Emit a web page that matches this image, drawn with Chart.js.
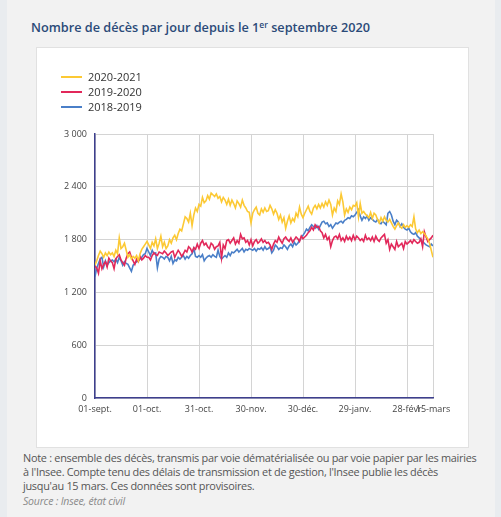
<!DOCTYPE html>
<html lang="fr">
<head>
<meta charset="utf-8">
<script src="https://cdn.jsdelivr.net/npm/chart.js@4/dist/chart.umd.min.js"></script>
<style>
  html, body { margin: 0; padding: 0; }
  body {
    width: 501px; height: 517px; overflow: hidden; position: relative;
    background: #f2f2f2; font-family: "Open Sans", sans-serif;
  }
  .strip-l { position: absolute; left: 0; top: 0; width: 7px; height: 517px; background: #e9ecef; }
  .strip-r { position: absolute; right: 0; top: 0; width: 6px; height: 517px; background: #e9ecef; }
  h1 {
    position: absolute; left: 31px; top: 18px; margin: 0;
    font-size: 12.7px; font-weight: 600; color: #2b4a78; white-space: nowrap;
  }
  h1 sup { font-size: 8.5px; vertical-align: 4px; line-height: 0; }
  .card {
    position: absolute; left: 36px; top: 47px; width: 431px; height: 399px;
    background: #fff; border: 1px solid #e1e1e1;
  }
  #chart { position: absolute; left: 0; top: 0; }
  #legend { position: absolute; left: 24px; top: 21px; font-size: 11px; color: #333; }
  #legend div { height: 15px; line-height: 15px; white-space: nowrap; }
  #legend span.sw { display: inline-block; width: 21px; height: 2px; vertical-align: middle; margin-right: 6px; position: relative; top: -1px; }
  .note {
    position: absolute; left: 23px; top: 451px; margin: 0; white-space: nowrap;
    font-size: 10.9px; line-height: 14px; color: #555; letter-spacing: -0.28px;
  }
  .source {
    position: absolute; left: 23px; top: 494px; margin: 0;
    font-size: 10.5px; font-style: italic; color: #8a8a8a; letter-spacing: -0.2px;
  }
</style>
</head>
<body>
<div class="strip-l"></div>
<div class="strip-r"></div>
<h1>Nombre de décès par jour depuis le 1<sup>er</sup> septembre 2020</h1>
<div class="card">
  <canvas id="chart" width="431" height="399"></canvas>
  <div id="legend"></div>
</div>
<p class="note">Note : ensemble des décès, transmis par voie dématérialisée ou par voie papier par les mairies<br>à l'Insee. Compte tenu des délais de transmission et de gestion, l'Insee publie les décès<br>jusqu'au 15 mars. Ces données sont provisoires.</p>
<p class="source">Source : Insee, état civil</p>

<script>
// Days since 1 September (0 = 01-sept., 195 = 15-mars)
const tickDays = [0, 30, 60, 90, 120, 150, 180, 195];
const tickLabels = ['01-sept.', '01-oct.', '31-oct.', '30-nov.', '30-déc.', '29-janv.', '28-févr', '15-mars'];

const seriesNames = ['2020-2021', '2019-2020', '2018-2019'];
const seriesColors = ['#fcc934', '#e2285a', '#4a7fc8'];

// Daily deaths
const deaths2020 = [
  1510, 1560, 1620, 1670, 1640, 1600, 1650, 1620, 1660, 1630,
  1650, 1610, 1680, 1640, 1820, 1700, 1720, 1760, 1680, 1600,
  1630, 1580, 1610, 1590, 1620, 1560, 1640, 1690, 1720, 1750,
  1780, 1740, 1700, 1770, 1730, 1810, 1700, 1760, 1840, 1720,
  1770, 1700, 1730, 1800, 1760, 1820, 1850, 1800, 1870, 1920,
  1900, 1980, 2060, 2040, 2000, 2100, 1960, 2080, 2160, 2120,
  2200, 2180, 2280, 2220, 2240, 2300, 2260, 2330, 2310, 2290,
  2320, 2270, 2290, 2230, 2280, 2250, 2200, 2260, 2190, 2250,
  2210, 2160, 2240, 2210, 2170, 2250, 2190, 2160, 2120, 2110,
  1990, 2100, 2140, 2170, 2100, 2080, 2150, 2110, 2160, 2120,
  2130, 2190, 2150, 2090, 2140, 2100, 2030, 2080, 2000, 2050,
  1930, 2010, 2070, 1990, 2040, 2010, 2100, 2060, 2170, 2090,
  2050, 2100, 2140, 2180, 2120, 2090, 2160, 2190, 2150, 2200,
  2160, 2210, 2170, 2230, 2190, 2250, 2200, 2080, 2160, 2120,
  2240, 2200, 2320, 2230, 2080, 2150, 2110, 2170, 2140, 2190,
  2180, 2220, 2060, 2210, 2100, 2120, 2090, 2070, 2050, 2110,
  2040, 2100, 2080, 2030, 1990, 2050, 2010, 2060, 2020, 2000,
  2030, 1990, 1950, 1920, 1960, 1990, 1950, 1930, 1970, 1940,
  1960, 1940, 1970, 1950, 2060, 1920, 1880, 1910, 1870, 1890,
  1870, 1840, 1810, 1760, 1680, 1600
];
const deaths2019 = [
  1500, 1480, 1420, 1560, 1470, 1520, 1550, 1490, 1590, 1560,
  1540, 1470, 1580, 1610, 1630, 1570, 1540, 1510, 1590, 1640,
  1660, 1600, 1560, 1520, 1580, 1550, 1610, 1570, 1590, 1620,
  1600, 1600, 1570, 1620, 1650, 1630, 1620, 1660, 1650, 1640,
  1670, 1650, 1620, 1640, 1660, 1670, 1600, 1640, 1680, 1650,
  1610, 1640, 1680, 1660, 1720, 1700, 1660, 1710, 1690, 1750,
  1700, 1760, 1790, 1740, 1760, 1720, 1700, 1760, 1740, 1690,
  1720, 1730, 1770, 1590, 1740, 1700, 1790, 1800, 1760, 1790,
  1820, 1750, 1790, 1760, 1860, 1810, 1820, 1770, 1790, 1740,
  1800, 1730, 1780, 1800, 1760, 1780, 1810, 1770, 1790, 1760,
  1770, 1740, 1690, 1750, 1790, 1770, 1830, 1790, 1760, 1810,
  1830, 1800, 1780, 1820, 1770, 1800, 1830, 1810, 1780, 1840,
  1810, 1830, 1850, 1880, 1900, 1940, 1910, 1970, 1940, 1950,
  1900, 1880, 1820, 1860, 1800, 1830, 1720, 1790, 1830, 1840,
  1810, 1860, 1790, 1820, 1780, 1840, 1800, 1830, 1790, 1850,
  1800, 1840, 1820, 1790, 1810, 1780, 1850, 1800, 1820, 1790,
  1830, 1780, 1840, 1800, 1780, 1820, 1840, 1860, 1760, 1800,
  1690, 1750, 1720, 1690, 1780, 1720, 1740, 1760, 1700, 1780,
  1750, 1770, 1790, 1760, 1800, 1780, 1760, 1770, 1810, 1720,
  1890, 1830, 1780, 1800, 1820, 1850
];
const deaths2018 = [
  1380, 1480, 1530, 1580, 1600, 1490, 1560, 1510, 1540, 1560,
  1570, 1550, 1580, 1540, 1600, 1560, 1510, 1550, 1530, 1520,
  1480, 1440, 1510, 1530, 1550, 1560, 1580, 1600, 1630, 1640,
  1700, 1660, 1620, 1680, 1640, 1650, 1480, 1580, 1610, 1600,
  1580, 1610, 1600, 1560, 1610, 1530, 1570, 1560, 1600, 1580,
  1600, 1620, 1580, 1610, 1590, 1620, 1640, 1700, 1610, 1600,
  1620, 1600, 1630, 1560, 1590, 1610, 1620, 1600, 1630, 1610,
  1600, 1680, 1610, 1580, 1600, 1620, 1600, 1650, 1620, 1660,
  1650, 1670, 1690, 1660, 1680, 1700, 1660, 1690, 1680, 1700,
  1690, 1680, 1700, 1670, 1700, 1690, 1710, 1680, 1720, 1690,
  1700, 1720, 1650, 1680, 1740, 1720, 1690, 1710, 1700, 1740,
  1720, 1690, 1730, 1750, 1720, 1770, 1740, 1760, 1790, 1830,
  1850, 1880, 1920, 1900, 1940, 1970, 1950, 1930, 1960, 1920,
  1960, 2000, 2010, 1980, 1990, 1950, 1970, 1930, 1960, 1990,
  1980, 2000, 2010, 1990, 2020, 2030, 2050, 2040, 2070, 2060,
  2080, 2110, 2140, 2070, 2020, 2060, 2040, 2070, 2020, 2050,
  2030, 2010, 2000, 2030, 1990, 1980, 2010, 1990, 1970, 2100,
  2120, 2080, 2010, 1970, 2020, 2000, 1950, 1980, 1940, 1920,
  1910, 1930, 1890, 1870, 1860, 1880, 1840, 1820, 1800, 1780,
  1760, 1740, 1730, 1720, 1750, 1730
];

const allSeries = [deaths2020, deaths2019, deaths2018];

const datasets = allSeries.map((values, i) => ({
    label: seriesNames[i],
    data: values.map((v, day) => ({ x: day, y: v })),
    borderColor: seriesColors[i],
    backgroundColor: seriesColors[i],
    borderWidth: 1.6,
    pointRadius: 0,
    tension: 0,
    fill: false
}));

const axisColor = '#3d3f8e';
const gridColor = '#d4d4d4';

const chart = new Chart(document.getElementById('chart'), {
    type: 'line',
    data: { datasets: datasets },
    options: {
        responsive: false,
        animation: false,
        layout: { padding: { top: 86, right: 35, bottom: 26, left: 0 } },
        plugins: {
            legend: { display: false },
            tooltip: { enabled: false }
        },
        scales: {
            x: {
                type: 'linear',
                min: 0,
                max: 195,
                afterBuildTicks: (scale) => {
                    scale.ticks = tickDays.map(d => ({ value: d }));
                },
                ticks: {
                    autoSkip: false,
                    maxRotation: 0,
                    padding: 6,
                    color: '#444',
                    font: { family: 'Open Sans', size: 9 },
                    callback: (value) => tickLabels[tickDays.indexOf(value)]
                },
                grid: { color: gridColor, tickLength: 0 },
                border: { color: axisColor, width: 1.5 }
            },
            y: {
                min: 0,
                max: 3000,
                afterFit: (scale) => { scale.width = 58; },
                ticks: {
                    stepSize: 600,
                    padding: 8,
                    color: '#444',
                    font: { family: 'Open Sans', size: 9 },
                    callback: (value) => value.toLocaleString('fr-FR').replace(/\s/g, ' ')
                },
                grid: { color: gridColor, tickLength: 0 },
                border: { color: axisColor, width: 1.5 }
            }
        }
    }
});

// Vertical legend, built from the chart's datasets
const legendBox = document.getElementById('legend');
chart.data.datasets.forEach(ds => {
    const row = document.createElement('div');
    row.innerHTML = `<span class="sw" style="background:${ds.borderColor}"></span>${ds.label}`;
    legendBox.appendChild(row);
});
</script>
</body>
</html>
